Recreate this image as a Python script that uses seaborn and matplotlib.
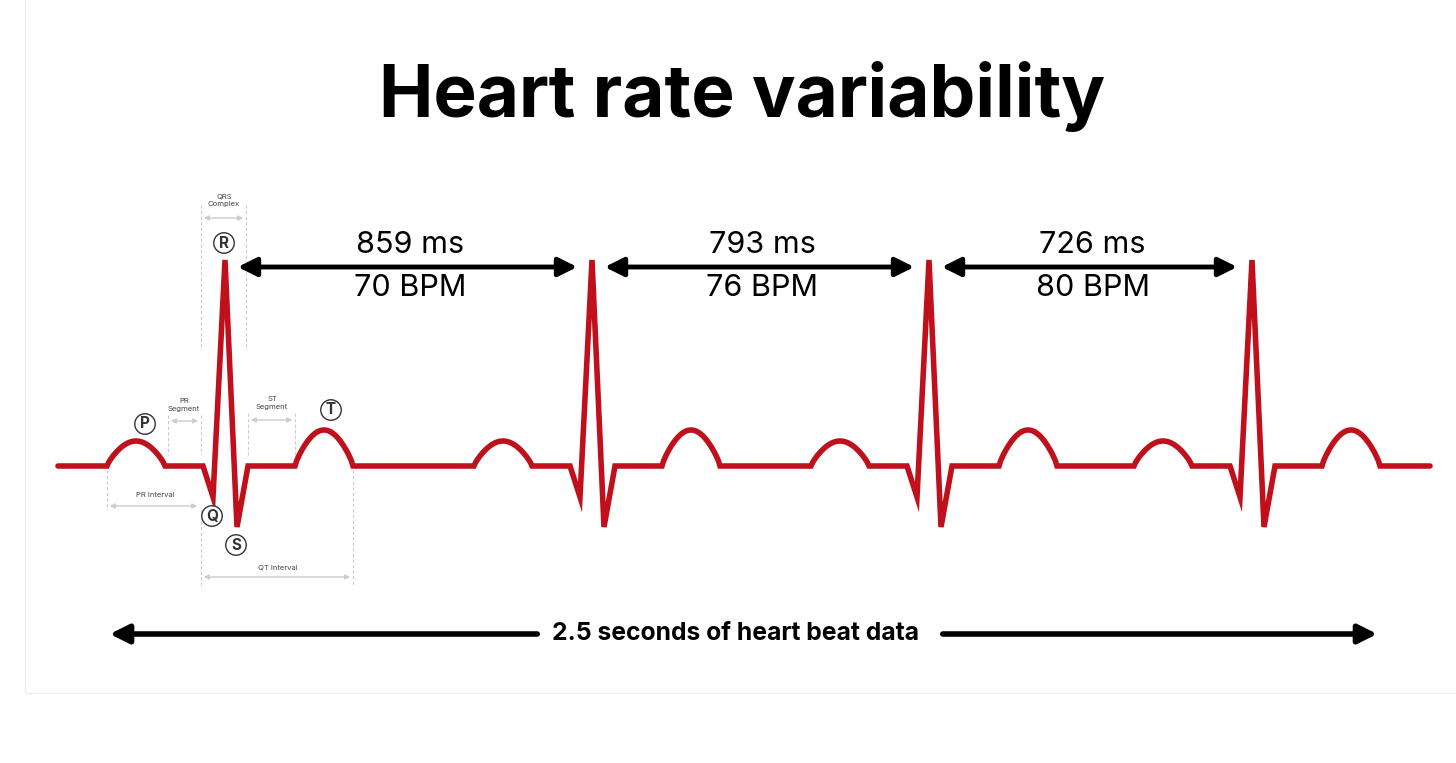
import numpy as np
import pandas as pd
import seaborn as sns
import matplotlib.pyplot as plt
from matplotlib.patches import Rectangle

# data (x in image-pixel-like units, y baseline 0 = up positive amplitude)
r_peaks = [225, 592, 929, 1252]
interval_ms = [859, 793, 726]
bpm = [70, 76, 80]
# template offsets from R peak
p_start, p_end, p_amp = -118, -60, 25
q_start, q_off, q_amp = -22, -12, -31
r_amp = 206
s_off, s_end, s_amp = 12, 23, -61
t_start, t_end, t_amp = 70, 128, 36
trace_start, trace_end = 58, 1430
baseline = 466

def bump(a, b, amp, n=40):
    t = np.linspace(0, 1, n)
    return a + (b - a) * t, amp * np.sin(np.pi * t) ** 0.8

xs, ys = [trace_start], [0.0]
for r in r_peaks:
    bx, by = bump(r + p_start, r + p_end, p_amp)
    xs += list(bx); ys += list(by)
    xs += [r + q_start, r + q_off, r, r + s_off, r + s_end]
    ys += [0, q_amp, r_amp, s_amp, 0]
    bx, by = bump(r + t_start, r + t_end, t_amp)
    xs += list(bx); ys += list(by)
xs.append(trace_end); ys.append(0)
df = pd.DataFrame({"x": xs, "y": baseline - np.array(ys)})

sns.set_style("white")
plt.rcParams['font.family'] = ['Inter', 'DejaVu Sans']
plt.rcParams['text.color'] = 'black'
fig = plt.figure(figsize=(14.56, 7.63), dpi=100)
ax = fig.add_axes([0, 0, 1, 1])
ax.set_xlim(0, 1456); ax.set_ylim(763, 0); ax.axis('off')

ax.add_patch(Rectangle((25, -5), 1440, 698, fill=False, ec='#eeeeee', lw=1))

sns.lineplot(data=df, x="x", y="y", ax=ax, color='#c0101c', lw=4, sort=False,
             estimator=None, solid_joinstyle='miter')

ax.text(742, 97, "Heart rate variability", ha='center', va='center',
        fontsize=52.5, fontweight='bold', color='black')

for i in range(3):
    a, b = r_peaks[i], r_peaks[i + 1]
    ax.annotate("", xy=(a + 10, 267), xytext=(b - 12, 267),
                arrowprops=dict(arrowstyle='<|-|>', color='black', lw=3.5, mutation_scale=28))
    mid = (a + b) / 2 + 2
    ax.text(mid, 245, f"{interval_ms[i]} ms", ha='center', va='center', fontsize=22, color='black')
    ax.text(mid, 288, f"{bpm[i]} BPM", ha='center', va='center', fontsize=22, color='black')

# bottom arrow
ax.annotate("", xy=(107, 634), xytext=(540, 634),
            arrowprops=dict(arrowstyle='-|>', color='black', lw=4, mutation_scale=28))
ax.annotate("", xy=(1380, 634), xytext=(940, 634),
            arrowprops=dict(arrowstyle='-|>', color='black', lw=4, mutation_scale=28))
ax.text(736, 634, "2.5 seconds of heart beat data", ha='center', va='center',
        fontsize=17.8, fontweight='bold', color='black')

# annotations on first beat
g = '#cccccc'
def vline(x, y0, y1):
    ax.plot([x, x], [y0, y1], color=g, lw=0.8, ls=(0, (3, 2)))
def garrow(x0, x1, y):
    ax.annotate("", xy=(x0, y), xytext=(x1, y),
                arrowprops=dict(arrowstyle='<|-|>', color=g, lw=1, mutation_scale=7))
vline(201, 205, 350); vline(246, 205, 350)
garrow(201, 246, 218)
ax.text(224, 200, "QRS\nComplex", ha='center', va='center', fontsize=5.5, color='#444444', linespacing=1.3)
vline(168, 415, 455); vline(201, 415, 455)
garrow(168, 201, 421)
ax.text(184, 405, "PR\nSegment", ha='center', va='center', fontsize=5.5, color='#444444', linespacing=1.3)
vline(248, 413, 455); vline(295, 413, 455)
garrow(248, 295, 420)
ax.text(272, 403, "ST\nSegment", ha='center', va='center', fontsize=5.5, color='#444444', linespacing=1.3)
vline(107, 470, 510); garrow(107, 200, 506)
ax.text(155, 495, "PR Interval", ha='center', va='center', fontsize=5.5, color='#444444')
vline(201, 510, 585); vline(353, 470, 585); garrow(201, 353, 577)
ax.text(278, 568, "QT Interval", ha='center', va='center', fontsize=5.5, color='#444444')

for lab, x, y in [("R", 224, 243), ("P", 145, 424), ("T", 331, 410), ("Q", 212, 516), ("S", 236, 545)]:
    ax.text(x, y, lab, ha='center', va='center', fontsize=11, fontweight='bold', color='#333333',
            bbox=dict(boxstyle='circle,pad=0.18', fc='white', ec='#333333', lw=1))

fig.savefig("out.png", dpi=100)
